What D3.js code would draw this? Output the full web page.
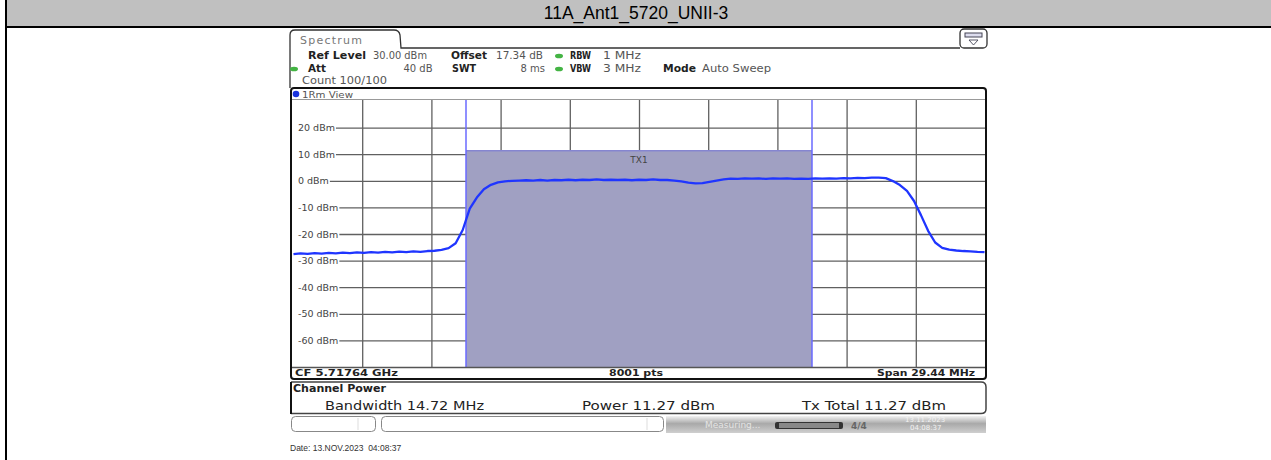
<!DOCTYPE html>
<html><head><meta charset="utf-8">
<script src="https://cdn.jsdelivr.net/npm/d3@7"></script>
<style>body{margin:0;background:#fff;} svg{display:block;font-family:"DejaVu Sans",sans-serif;}</style>
</head><body><svg id="c" width="1271" height="460"></svg>
<script>
// ---------- data ----------
const chartTitle = "11A_Ant1_5720_UNII-3";
const freqMHz = [-14.7,-14.4,-14.1,-13.8,-13.5,-13.2,-12.9,-12.6,-12.3,-12.0,-11.7,-11.4,-11.1,-10.8,-10.5,-10.2,-9.9,-9.6,-9.3,-9.0,
  -8.7,-8.4,-8.1,-7.8,-7.5,-7.2,-6.9,-6.6,-6.3,-6.0,-5.7,-5.4,-5.1,-4.8,-4.5,-4.2,-3.9,-3.6,-3.3,-3.0,
  -2.7,-2.4,-2.1,-1.8,-1.5,-1.2,-0.9,-0.6,-0.3,0.0,0.3,0.6,0.9,1.2,1.5,1.8,2.1,2.4,2.7,3.0,
  3.3,3.6,3.9,4.2,4.5,4.8,5.1,5.4,5.7,6.0,6.3,6.6,6.9,7.2,7.5,7.8,8.1,8.4,8.7,9.0,
  9.3,9.6,9.9,10.2,10.5,10.8,11.1,11.4,11.7,12.0,12.3,12.6,12.9,13.2,13.5,13.8,14.1,14.4,14.7];
const levelDbm = [-27.6,-27.3,-27.5,-27.2,-27.4,-27.1,-27.3,-27.0,-27.2,-26.9,-27.1,-26.8,-27.0,-26.7,-26.9,-26.6,-26.8,-26.5,-26.7,-26.4,
  -26.3,-26.0,-25.3,-23.5,-18.5,-10.5,-6.3,-3.2,-1.5,-0.6,-0.2,0.0,0.1,0.2,0.1,0.3,0.1,0.3,0.2,0.4,
  0.2,0.4,0.3,0.5,0.3,0.4,0.3,0.4,0.2,0.4,0.3,0.5,0.3,0.3,0.1,-0.2,-0.7,-1.0,-0.9,-0.4,
  0.1,0.5,0.8,0.7,0.9,0.8,0.9,0.7,0.9,0.8,0.9,0.7,0.8,0.7,0.9,0.8,0.9,0.8,1.0,0.9,
  1.1,1.0,1.2,1.2,1.0,-0.1,-1.6,-3.8,-7.6,-13.0,-18.8,-23.2,-25.2,-25.9,-26.2,-26.4,-26.5,-26.7,-26.8];
const yTickValues = [20,10,0,-10,-20,-30,-40,-50,-60];
const yTickLabels = ["20 dBm","10 dBm","0 dBm","-10 dBm","-20 dBm","-30 dBm","-40 dBm","-50 dBm","-60 dBm"];
const xGridMHz = [-11.776,-8.832,-5.888,-2.944,0,2.944,5.888,8.832,11.776];
const spanMHz = 29.44;
const refLevelDbm = 30;
const bottomLevelDbm = -70;
const channelBwMHz = 14.72;
const channelPowerDbm = 11.27;
const channelLabel = "TX1";

// ---------- layout ----------
const svg = d3.select("#c");
const L = 293, R = 985, T = 101, B = 367;
const x = d3.scaleLinear().domain([-spanMHz/2, spanMHz/2]).range([L, R]);
const y = d3.scaleLinear().domain([bottomLevelDbm, refLevelDbm]).range([B, T]);

// page frame
svg.append("rect").attr("x",7).attr("y",0).attr("width",1264).attr("height",26).attr("fill","#c0c0c0");
svg.append("rect").attr("x",5).attr("y",26).attr("width",1266).attr("height",2).attr("fill","#000");
svg.append("rect").attr("x",5).attr("y",0).attr("width",2).attr("height",460).attr("fill","#000");
svg.append("text").attr("x",636).attr("y",18.5).attr("text-anchor","middle")
  .style("font-family","'Liberation Sans',Arial,sans-serif").style("font-size","17.5px").attr("fill","#000")
  .text(chartTitle);

// tab
svg.append("path").attr("d","M290,88 L290,35 Q290,30 295,30 L394,30 Q399,30 400,35 L401,48 L960,48")
  .attr("fill","none").attr("stroke","#333").attr("stroke-width",1.3);
svg.append("text").attr("x",300).attr("y",44).style("font-size","11px").attr("fill","#777")
  .attr("textLength",62).text("Spectrum");
svg.append("rect").attr("x",960).attr("y",29).attr("width",27).attr("height",19).attr("rx",4)
  .attr("fill","#fff").attr("stroke","#333").attr("stroke-width",1.3);
svg.append("rect").attr("x",965).attr("y",33).attr("width",17).attr("height",4).attr("fill","#dde").attr("stroke","#445").attr("stroke-width",1);
svg.append("path").attr("d","M969,40 L978,40 L973.5,45 Z").attr("fill","#fff").attr("stroke","#445").attr("stroke-width",0.9);

// header
function txt(xx, yy, s, opts={}) {
  const t = svg.append("text").attr("x",xx).attr("y",yy).style("font-size",(opts.size||10)+"px")
    .style("font-weight",opts.bold?"bold":"normal").attr("fill",opts.fill||"#222").text(s);
  if (opts.anchor) t.attr("text-anchor",opts.anchor);
  if (opts.len) t.attr("textLength",opts.len).attr("lengthAdjust","spacingAndGlyphs");
  return t;
}
function greenDot(cx, cy){ svg.append("ellipse").attr("cx",cx).attr("cy",cy).attr("rx",4).attr("ry",2.3).attr("fill","#44b444"); }
txt(308,59,"Ref Level",{bold:true,len:58});
txt(373,59,"30.00 dBm",{len:54,fill:"#555"});
txt(451,59,"Offset",{bold:true,len:36});
txt(496,59,"17.34 dB",{len:47,fill:"#555"});
greenDot(559,56);
txt(570,59,"RBW",{bold:true,len:21});
txt(603,59,"1 MHz",{len:38,fill:"#555"});
greenDot(294,69);
txt(308,72,"Att",{bold:true,len:18});
txt(432.5,72,"40 dB",{anchor:"end",fill:"#555"});
txt(452,72,"SWT",{bold:true,len:24});
txt(545,72,"8 ms",{anchor:"end",fill:"#555"});
greenDot(559,69);
txt(570,72,"VBW",{bold:true,len:21});
txt(603,72,"3 MHz",{len:38,fill:"#555"});
txt(663,72,"Mode",{bold:true,len:33});
txt(702,72,"Auto Sweep",{len:69,fill:"#555"});
txt(302,84,"Count 100/100",{len:85,fill:"#555"});

// graph frame
svg.append("rect").attr("x",291).attr("y",88).attr("width",695).attr("height",291).attr("rx",3)
  .attr("fill","#fff").attr("stroke","#111").attr("stroke-width",2);
svg.append("line").attr("x1",292).attr("x2",985).attr("y1",99.5).attr("y2",99.5).attr("stroke","#999").attr("stroke-width",1);
svg.append("circle").attr("cx",296).attr("cy",94).attr("r",3.3).attr("fill","#1a33dd");
txt(302,97.5,"1Rm View",{size:9,len:51,fill:"#555"});

// grid
const grid = svg.append("g");
grid.append("g").attr("transform",`translate(0,${B})`)
  .call(d3.axisBottom(x).tickValues(xGridMHz).tickSize(-(B-100)).tickFormat(""));
grid.append("g").attr("transform",`translate(${L},0)`)
  .call(d3.axisLeft(y).tickValues(yTickValues).tickSize(-(R-L)).tickFormat(""));
grid.selectAll(".domain").remove();
grid.selectAll(".tick line").attr("stroke","#606060").attr("stroke-width",1.3);

// y labels
const lab = svg.append("g");
yTickValues.forEach((v,i)=>{
  const t = lab.append("text").attr("x",298).attr("y",y(v)+3.5).style("font-size","9.5px").attr("fill","#444").text(yTickLabels[i]);
  const bb = t.node().getBBox();
  lab.insert("rect","text").attr("x",L).attr("y",bb.y+1).attr("width",bb.x+bb.width+1-L).attr("height",bb.height-2).attr("fill","#fff");
});

// channel
const cx1 = x(-channelBwMHz/2), cx2 = x(channelBwMHz/2);
svg.append("rect").attr("x",cx1).attr("y",y(channelPowerDbm)).attr("width",cx2-cx1).attr("height",B-y(channelPowerDbm))
  .attr("fill","#a0a0c2");
svg.append("line").attr("x1",cx1).attr("x2",cx2).attr("y1",y(channelPowerDbm)).attr("y2",y(channelPowerDbm))
  .attr("stroke","#8585d0").attr("stroke-width",1.5);
[cx1,cx2].forEach(cx=>svg.append("line").attr("x1",cx).attr("x2",cx).attr("y1",100).attr("y2",B)
  .attr("stroke","#6a6aff").attr("stroke-width",1.5));
txt(639,163,channelLabel,{size:9,anchor:"middle",fill:"#444"});

// trace
const line = d3.line().x((d,i)=>x(freqMHz[i])).y(d=>y(d));
svg.append("path").attr("d",line(levelDbm)).attr("fill","none").attr("stroke","#1f35ff").attr("stroke-width",2.3)
  .attr("stroke-linejoin","round");

// bottom bar of graph
svg.append("line").attr("x1",292).attr("x2",985).attr("y1",B+0.5).attr("y2",B+0.5).attr("stroke","#555").attr("stroke-width",1.3);
txt(295,376,"CF 5.71764 GHz",{size:9.5,bold:true,len:103});
txt(609,376,"8001 pts",{size:9.5,bold:true,len:54});
txt(877,376,"Span 29.44 MHz",{size:9.5,bold:true,len:98});

// channel power box
svg.append("path").attr("d","M291,382 L981,382 Q986,382 986,387 L986,409 Q986,413.5 981,413.5 L291,413.5")
  .attr("fill","#fff").attr("stroke","#444").attr("stroke-width",1.5);
svg.append("line").attr("x1",291).attr("x2",291).attr("y1",382).attr("y2",414).attr("stroke","#111").attr("stroke-width",2);
txt(293,391.5,"Channel Power",{size:10,bold:true,len:93});
txt(325,410,"Bandwidth 14.72 MHz",{size:12.5,len:159});
txt(582,410,"Power 11.27 dBm",{size:12.5,len:133});
txt(802,410,"Tx Total 11.27 dBm",{size:12.5,len:144});

// status bar
svg.append("rect").attr("x",291.5).attr("y",416.5).attr("width",84).attr("height",15).attr("rx",4)
  .attr("fill","#fff").attr("stroke","#888").attr("stroke-width",1);
svg.append("line").attr("x1",358).attr("x2",358).attr("y1",418).attr("y2",430).attr("stroke","#ddd");
svg.append("rect").attr("x",381.5).attr("y",416.5).attr("width",282).attr("height",15).attr("rx",4)
  .attr("fill","#fff").attr("stroke","#888").attr("stroke-width",1);
svg.append("line").attr("x1",647).attr("x2",647).attr("y1",418).attr("y2",430).attr("stroke","#ddd");
const defs = svg.append("defs");
const grad = defs.append("linearGradient").attr("id","sg").attr("x1",0).attr("x2",0).attr("y1",0).attr("y2",1);
grad.append("stop").attr("offset","0%").attr("stop-color","#f2f2f2");
grad.append("stop").attr("offset","45%").attr("stop-color","#a9a9a9");
grad.append("stop").attr("offset","100%").attr("stop-color","#cfcfcf");
svg.append("rect").attr("x",666).attr("y",416).attr("width",320).attr("height",17).attr("fill","url(#sg)");
txt(705,428,"Measuring...",{size:9,fill:"#e4e4e4"});
svg.append("rect").attr("x",775).attr("y",422).attr("width",68).attr("height",7).attr("rx",2).attr("fill","#333");
svg.append("rect").attr("x",779).attr("y",423).attr("width",60).attr("height",5).attr("fill","#888");
txt(851,429,"4/4",{size:9,bold:true,fill:"#666"});
txt(905,422,"13.11.2023",{size:7,fill:"#f2f2f2"});
txt(910,430,"04:08:37",{size:7,fill:"#f2f2f2"});

// date
svg.append("text").attr("x",290).attr("y",451).style("font-family","'Liberation Sans',Arial,sans-serif")
  .style("font-size","8.5px").attr("fill","#333").attr("xml:space","preserve").text("Date: 13.NOV.2023  04:08:37");
</script></body></html>
